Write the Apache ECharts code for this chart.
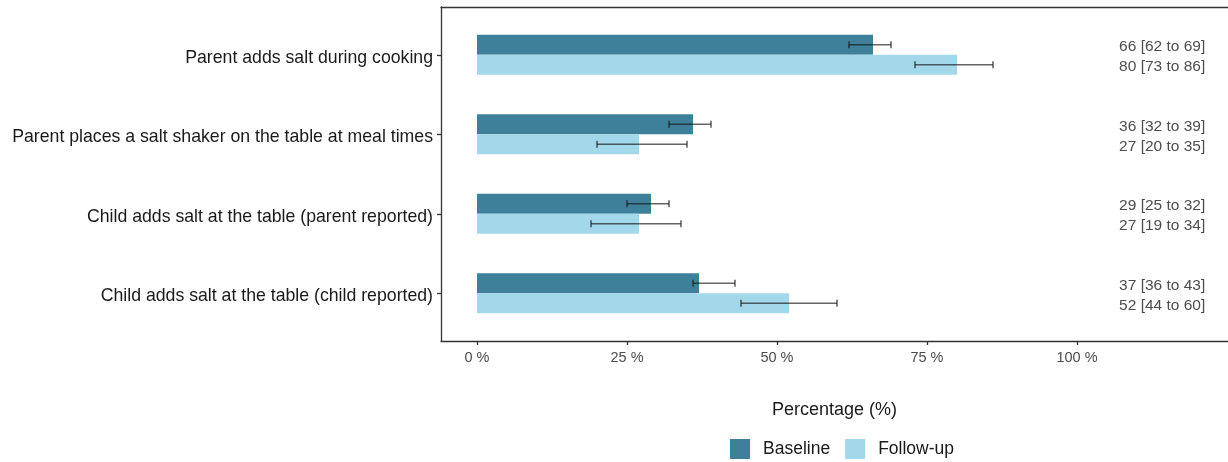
<!DOCTYPE html>
<html>
<head>
<meta charset="utf-8">
<script src="https://cdn.jsdelivr.net/npm/echarts@6/dist/echarts.min.js"></script>
<style>
html,body{margin:0;padding:0;background:#fff;}
#chart{width:1228px;height:462px;}
</style>
</head>
<body>
<div id="chart"></div>
<script>
const categories = [
  'Parent adds salt during cooking',
  'Parent places a salt shaker on the table at meal times',
  'Child adds salt at the table (parent reported)',
  'Child adds salt at the table (child reported)'
];
const seriesNames = ['Baseline', 'Follow-up'];
const baseline = [66, 36, 29, 37];
const baselineLow = [62, 32, 25, 36];
const baselineHigh = [69, 39, 32, 43];
const followup = [80, 27, 27, 52];
const followupLow = [73, 20, 19, 44];
const followupHigh = [86, 35, 34, 60];
const xTicks = [0, 25, 50, 75, 100];
const labelX = 114.2;

const FONT = 'Liberation Sans, Arial, sans-serif';
const COLORS = ['#3e8099', '#a3d8ea'];
const BAR_W = 20;
const X_MIN = -6, X_MAX = 125.17;
const LINE = {color: '#333', width: 1.3};

function errData(lo, hi) {
  return categories.map((c, i) => [lo[i], hi[i], i]);
}
function errRender(offset) {
  return function (params, api) {
    const cat = api.value(2);
    const a = api.coord([api.value(0), cat]);
    const b = api.coord([api.value(1), cat]);
    const y = a[1] + offset;
    const st = {stroke: 'rgba(20,20,20,0.65)', lineWidth: 1.6};
    return {
      type: 'group',
      children: [
        {type: 'line', shape: {x1: a[0], y1: y, x2: b[0], y2: y}, style: st},
        {type: 'line', shape: {x1: a[0], y1: y - 3.5, x2: a[0], y2: y + 3.5}, style: st},
        {type: 'line', shape: {x1: b[0], y1: y - 3.5, x2: b[0], y2: y + 3.5}, style: st}
      ]
    };
  };
}
const labelData = categories.map((c, i) => [labelX, i]);
function fmt(v, lo, hi) { return v + ' [' + lo + ' to ' + hi + ']'; }

const chart = echarts.init(document.getElementById('chart'), null, {renderer: 'canvas'});
chart.setOption({
  animation: false,
  textStyle: {fontFamily: FONT},
  legend: {
    data: seriesNames,
    left: 730, top: 439, padding: 0,
    itemWidth: 20, itemHeight: 20, itemGap: 15,
    icon: 'rect',
    textStyle: {fontSize: 17.5, color: '#1a1a1a', fontFamily: FONT, padding: [2, 0, 0, 8]}
  },
  grid: [
    {left: 441, right: 0, top: 15, bottom: 129, containLabel: false},
    {left: 441, right: 0, top: 7, bottom: 121, containLabel: false}
  ],
  xAxis: [
    {gridIndex: 0, type: 'value', min: X_MIN, max: X_MAX, show: false},
    {
      gridIndex: 1, type: 'value', min: X_MIN, max: X_MAX, position: 'bottom',
      name: 'Percentage (%)', nameLocation: 'middle', nameGap: 60,
      nameTextStyle: {fontSize: 18, color: '#1a1a1a', fontFamily: FONT},
      axisLine: {show: true, onZero: false, lineStyle: LINE},
      splitLine: {show: false},
      axisTick: {show: true, length: 4, lineStyle: LINE, customValues: xTicks},
      axisLabel: {color: '#4d4d4d', fontSize: 14.5, margin: 9, customValues: xTicks, formatter: v => v + ' %', fontFamily: FONT}
    },
    {
      gridIndex: 1, type: 'value', min: X_MIN, max: X_MAX, position: 'top',
      axisLine: {show: true, onZero: false, lineStyle: LINE},
      axisTick: {show: false}, axisLabel: {show: false}, splitLine: {show: false}
    }
  ],
  yAxis: [
    {
      gridIndex: 0, type: 'category', data: categories, inverse: true, position: 'left',
      axisLine: {show: false, onZero: false},
      axisTick: {show: true, alignWithLabel: true, length: 4, lineStyle: LINE},
      axisLabel: {
        color: '#1a1a1a', fontSize: 17.7, margin: 8, fontFamily: FONT,
        formatter: v => '{a|' + v + '}',
        rich: {a: {color: '#1a1a1a', fontSize: 17.7, fontFamily: FONT, padding: [6, 0, 0, 0]}}
      },
      splitLine: {show: false}
    },
    {
      gridIndex: 1, type: 'value', min: 0, max: 1, position: 'left',
      axisLine: {show: true, onZero: false, lineStyle: LINE},
      axisTick: {show: false}, axisLabel: {show: false}, splitLine: {show: false}
    }
  ],
  series: [
    {name: seriesNames[0], type: 'bar', xAxisIndex: 0, yAxisIndex: 0, data: baseline, barWidth: BAR_W, barGap: '0%', itemStyle: {color: COLORS[0]}},
    {name: seriesNames[1], type: 'bar', xAxisIndex: 0, yAxisIndex: 0, data: followup, barWidth: BAR_W, barGap: '0%', itemStyle: {color: COLORS[1]}},
    {type: 'custom', xAxisIndex: 0, yAxisIndex: 0, data: errData(baselineLow, baselineHigh), encode: {x: [0, 1], y: 2}, renderItem: errRender(-BAR_W / 2), z: 5},
    {type: 'custom', xAxisIndex: 0, yAxisIndex: 0, data: errData(followupLow, followupHigh), encode: {x: [0, 1], y: 2}, renderItem: errRender(BAR_W / 2), z: 5},
    {
      type: 'custom', xAxisIndex: 0, yAxisIndex: 0, data: labelData, encode: {x: 0, y: 1}, z: 5,
      renderItem: function (params, api) {
        const i = api.value(1);
        const p = api.coord([api.value(0), i]);
        const ts = {fontSize: 15.5, fill: '#4d4d4d', fontFamily: FONT, align: 'center', verticalAlign: 'middle'};
        return {
          type: 'group',
          children: [
            {type: 'text', x: p[0], y: p[1] - BAR_W / 2 + 2, style: Object.assign({text: fmt(baseline[i], baselineLow[i], baselineHigh[i])}, ts)},
            {type: 'text', x: p[0], y: p[1] + BAR_W / 2 + 2, style: Object.assign({text: fmt(followup[i], followupLow[i], followupHigh[i])}, ts)}
          ]
        };
      }
    }
  ]
});
</script>
</body>
</html>
